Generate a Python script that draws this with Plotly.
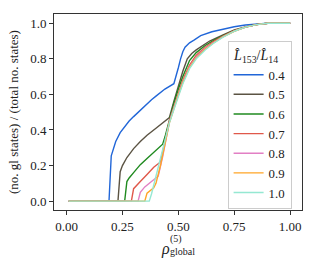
import plotly.graph_objects as go

labels = ["0.4", "0.5", "0.6", "0.7", "0.8", "0.9", "1.0"]
colors = ["#2166d8", "#5b5343", "#1f8a1f", "#e0584a", "#e27fc4", "#ffa526", "#95e8d2"]

x_04 = [0.01, 0.19, 0.20, 0.21, 0.22, 0.24, 0.26, 0.28, 0.30, 0.34, 0.38, 0.40, 0.44, 0.48, 0.49, 0.50, 0.51, 0.52, 0.53, 0.55, 0.57, 0.60, 0.65, 0.70, 0.75, 0.80, 0.85, 0.90, 1.00]
y_04 = [0, 0, 0.255, 0.30, 0.335, 0.385, 0.42, 0.45, 0.475, 0.525, 0.57, 0.59, 0.63, 0.66, 0.70, 0.75, 0.80, 0.84, 0.865, 0.89, 0.905, 0.93, 0.952, 0.968, 0.98, 0.99, 0.996, 1.0, 1.0]

x_05 = [0.01, 0.23, 0.24, 0.25, 0.27, 0.30, 0.33, 0.36, 0.40, 0.43, 0.46, 0.48, 0.50, 0.52, 0.54, 0.56, 0.58, 0.60, 0.64, 0.70, 0.75, 0.80, 0.85, 0.90, 1.00]
y_05 = [0, 0, 0.165, 0.20, 0.245, 0.295, 0.335, 0.37, 0.41, 0.44, 0.47, 0.56, 0.65, 0.73, 0.80, 0.83, 0.85, 0.868, 0.90, 0.935, 0.962, 0.98, 0.993, 1.0, 1.0]

x_06 = [0.01, 0.26, 0.27, 0.28, 0.30, 0.33, 0.36, 0.39, 0.42, 0.43, 0.44, 0.46, 0.48, 0.50, 0.52, 0.55, 0.58, 0.62, 0.66, 0.70, 0.75, 0.80, 0.85, 0.90, 1.00]
y_06 = [0, 0, 0.11, 0.13, 0.16, 0.205, 0.24, 0.275, 0.31, 0.32, 0.36, 0.46, 0.55, 0.63, 0.70, 0.79, 0.835, 0.875, 0.905, 0.93, 0.958, 0.978, 0.992, 1.0, 1.0]

x_07 = [0.01, 0.29, 0.30, 0.31, 0.33, 0.36, 0.39, 0.42, 0.44, 0.46, 0.48, 0.50, 0.52, 0.55, 0.58, 0.62, 0.66, 0.70, 0.75, 0.80, 0.85, 0.90, 1.00]
y_07 = [0, 0, 0.07, 0.085, 0.11, 0.15, 0.19, 0.22, 0.33, 0.45, 0.53, 0.61, 0.68, 0.765, 0.82, 0.865, 0.90, 0.928, 0.958, 0.978, 0.992, 1.0, 1.0]

x_08 = [0.01, 0.32, 0.33, 0.35, 0.38, 0.40, 0.41, 0.43, 0.46, 0.48, 0.50, 0.52, 0.55, 0.58, 0.62, 0.66, 0.70, 0.75, 0.80, 0.85, 0.90, 1.00]
y_08 = [0, 0, 0.05, 0.08, 0.11, 0.13, 0.14, 0.25, 0.445, 0.525, 0.60, 0.67, 0.755, 0.81, 0.86, 0.895, 0.925, 0.956, 0.978, 0.992, 1.0, 1.0]

x_09 = [0.01, 0.35, 0.36, 0.37, 0.39, 0.40, 0.42, 0.46, 0.48, 0.50, 0.52, 0.55, 0.58, 0.62, 0.66, 0.70, 0.75, 0.80, 0.85, 0.90, 1.00]
y_09 = [0, 0, 0.045, 0.055, 0.075, 0.10, 0.20, 0.44, 0.52, 0.595, 0.665, 0.75, 0.805, 0.855, 0.892, 0.924, 0.955, 0.978, 0.992, 1.0, 1.0]

x_10 = [0.01, 0.37, 0.38, 0.40, 0.42, 0.44, 0.46, 0.48, 0.50, 0.52, 0.55, 0.58, 0.62, 0.66, 0.70, 0.75, 0.80, 0.85, 0.90, 1.00]
y_10 = [0, 0, 0.04, 0.14, 0.25, 0.35, 0.44, 0.515, 0.59, 0.66, 0.745, 0.80, 0.85, 0.89, 0.922, 0.955, 0.978, 0.992, 1.0, 1.0]

series_x = [x_04, x_05, x_06, x_07, x_08, x_09, x_10]
series_y = [y_04, y_05, y_06, y_07, y_08, y_09, y_10]

x_ticks = [0.0, 0.25, 0.5, 0.75, 1.0]
y_ticks = [0.0, 0.2, 0.4, 0.6, 0.8, 1.0]

FONT = "Liberation Serif, DejaVu Serif, serif"
TXT = "#222222"
fig = go.Figure()
for lab, col, xs, ys in zip(labels, colors, series_x, series_y):
    fig.add_trace(go.Scatter(x=xs, y=ys, mode="lines", name=lab,
                             line=dict(color=col, width=1.4)))

axis_common = dict(showline=True, mirror=True, linecolor="#333333", linewidth=1,
                   ticks="outside", ticklen=4, tickcolor="#333333", showgrid=False,
                   zeroline=False, automargin=False,
                   tickfont=dict(family=FONT, size=13, color=TXT))
fig.update_xaxes(range=[-0.056, 1.053], tickvals=x_ticks, tickformat=".2f", **axis_common)
fig.update_yaxes(range=[-0.05, 1.052], tickvals=y_ticks, tickformat=".1f",
                 title=dict(text="(no. gl states) / (total no. states)",
                            font=dict(family=FONT, size=13, color=TXT), standoff=8),
                 **axis_common)

fig.add_annotation(x=0.448, y=-0.2, xref="paper", yref="paper", text="<i>ρ</i>",
                   xanchor="center", yanchor="middle",
                   showarrow=False, font=dict(family=FONT, size=16, color=TXT))
fig.add_annotation(x=0.49, y=-0.148, xref="paper", yref="paper", text="(5)",
                   xanchor="center", yanchor="middle",
                   showarrow=False, font=dict(family=FONT, size=10, color=TXT))
fig.add_annotation(x=0.458, y=-0.214, xref="paper", yref="paper", text="global",
                   xanchor="left", yanchor="middle",
                   showarrow=False, font=dict(family=FONT, size=10, color=TXT))

fig.update_layout(
    width=316, height=268,
    margin=dict(l=54, r=14, t=14, b=58, autoexpand=False),
    plot_bgcolor="white", paper_bgcolor="white",
    font=dict(family=FONT, size=13, color=TXT),
    legend=dict(x=0.70, y=0.864, xanchor="left", yanchor="top",
                bgcolor="rgba(255,255,255,0.85)", bordercolor="#cccccc", borderwidth=1,
                font=dict(family=FONT, size=12.8, color=TXT),
                title=dict(text=" <i>L̂</i><sub>153</sub>/<i>L̂</i><sub>14</sub>",
                           font=dict(family=FONT, size=14, color=TXT), side="top"),
                tracegroupgap=0, itemwidth=30),
    showlegend=True,
)

fig.write_html("out.html", config={"displayModeBar": False},
               post_script="document.body.style.margin='0';document.body.style.padding='0';")
